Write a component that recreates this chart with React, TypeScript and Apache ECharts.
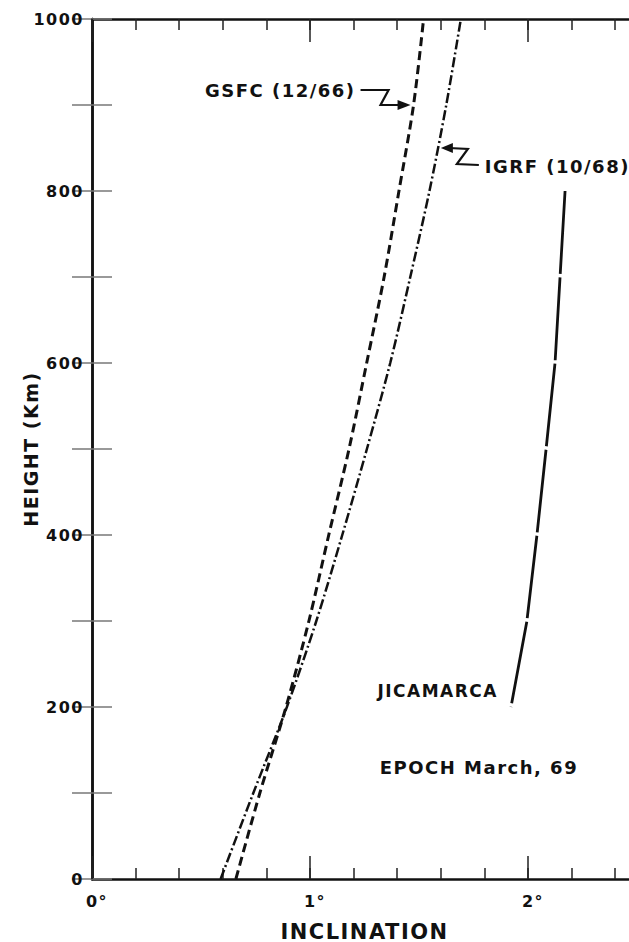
import React, { useEffect, useRef } from "react";
import * as echarts from "echarts";

// ---- data ----
const heightsKm = [0, 100, 200, 300, 400, 500, 600, 700, 800, 900, 1000];
const gsfcInclination = [0.66, 0.77, 0.89, 0.995, 1.086, 1.179, 1.26, 1.34, 1.408, 1.475, 1.521];
const igrfInclination = [0.59, 0.74, 0.894, 1.029, 1.148, 1.261, 1.368, 1.46, 1.548, 1.625, 1.692];
const jicamarcaHeightsKm = [800, 700, 600, 500, 400, 300, 200];
const jicamarcaInclination = [2.17, 2.147, 2.124, 2.083, 2.041, 1.995, 1.922];

const xTickLabels = ["0°", "1°", "2°"];
const X_MAX = 2.5;
const Y_MAX = 1000;

const X_NAME = "INCLINATION";
const Y_NAME = "HEIGHT (Km)";
const GSFC_LABEL = "GSFC (12/66)";
const IGRF_LABEL = "IGRF (10/68)";
const JIC_LABEL = "JICAMARCA";
const EPOCH_LABEL = "EPOCH March, 69";

const GSFC_ARROW_KM = 900;
const IGRF_ARROW_KM = 850;
const EPOCH_POS = [1.32, 130];

const FONT = "DejaVu Sans";
const INK = "#111";

function interp(hs: number[], vs: number[], h: number) {
  for (let i = 0; i < hs.length - 1; i++) {
    const a = hs[i], b = hs[i + 1];
    if ((h >= a && h <= b) || (h <= a && h >= b)) {
      const t = (h - a) / (b - a);
      return vs[i] + t * (vs[i + 1] - vs[i]);
    }
  }
  return vs[vs.length - 1];
}

export default function App() {
  const ref = useRef<HTMLDivElement>(null);

  useEffect(() => {
    const el = ref.current!;
    const chart = echarts.init(el, null, { renderer: "svg" });

    const tickFont = { fontFamily: FONT, fontWeight: "bold", fontSize: 16, color: INK };
    const axisLine = { show: true, lineStyle: { color: INK, width: 2.5 } };
    const xTickStyle = { color: "#222", width: 1.5 };
    const yTickStyle = { color: "#777", width: 1.5 };
    const baseX: any = { type: "value", min: 0, max: X_MAX, splitLine: { show: false } };
    const baseY: any = { type: "value", min: 0, max: Y_MAX, interval: 100, splitLine: { show: false } };

    chart.setOption({
      animation: false,
      backgroundColor: "#fff",
      grid: {
        left: 92,
        top: 19,
        width: 545,
        height: 860,
        containLabel: false,
        outerBoundsMode: "none",
      },
      xAxis: [
        {
          ...baseX,
          position: "bottom",
          interval: 1,
          axisLine,
          axisTick: { show: true, inside: true, length: 23, lineStyle: xTickStyle },
          axisLabel: {
            ...tickFont,
            margin: 14,
            padding: [0, 0, 0, 10],
            showMaxLabel: false,
            formatter: (v: number) => (Number.isInteger(v) && xTickLabels[v] ? xTickLabels[v] : ""),
          },
          name: X_NAME,
          nameLocation: "middle",
          nameGap: 42,
          nameMoveOverlap: false,
          nameTextStyle: { fontFamily: FONT, fontWeight: "bold", fontSize: 21, color: INK },
        },
        {
          ...baseX,
          position: "bottom",
          interval: 0.2,
          axisLine: { show: false },
          axisTick: { show: true, inside: true, length: 11, lineStyle: xTickStyle },
          axisLabel: { show: false },
        },
        {
          ...baseX,
          position: "top",
          interval: 1,
          axisLine,
          axisTick: { show: true, inside: true, length: 23, lineStyle: xTickStyle },
          axisLabel: { show: false },
        },
        {
          ...baseX,
          position: "top",
          interval: 0.2,
          axisLine: { show: false },
          axisTick: { show: true, inside: true, length: 11, lineStyle: xTickStyle },
          axisLabel: { show: false },
        },
      ],
      yAxis: [
        {
          ...baseY,
          position: "left",
          axisLine,
          axisTick: { show: true, inside: true, length: 20, lineStyle: yTickStyle },
          axisLabel: {
            ...tickFont,
            margin: 8,
            formatter: (v: number) => (v % 200 === 0 ? String(v) : ""),
          },
          name: Y_NAME,
          nameLocation: "middle",
          nameGap: 52,
          nameRotate: 90,
          nameMoveOverlap: false,
          nameTextStyle: { fontFamily: FONT, fontWeight: "bold", fontSize: 19, color: INK },
        },
        {
          ...baseY,
          position: "right",
          axisLine,
          axisTick: { show: true, inside: true, length: 20, lineStyle: yTickStyle },
          axisLabel: { show: false },
        },
      ],
      series: [
        {
          name: GSFC_LABEL,
          type: "line",
          xAxisIndex: 0,
          yAxisIndex: 0,
          data: heightsKm.map((h, i) => [gsfcInclination[i], h]),
          symbol: "none",
          showSymbol: false,
          smooth: 0.3,
          lineStyle: { color: INK, width: 3, type: [9, 5] },
        },
        {
          name: IGRF_LABEL,
          type: "line",
          xAxisIndex: 0,
          yAxisIndex: 0,
          data: heightsKm.map((h, i) => [igrfInclination[i], h]),
          symbol: "none",
          showSymbol: false,
          smooth: 0.3,
          lineStyle: { color: INK, width: 2.5, type: [10, 3, 2, 3] },
        },
        {
          name: JIC_LABEL,
          type: "line",
          xAxisIndex: 0,
          yAxisIndex: 0,
          data: jicamarcaHeightsKm.map((h, i) => [jicamarcaInclination[i], h]),
          symbol: "none",
          showSymbol: false,
          lineStyle: { color: INK, width: 2.8, type: [83, 3.5] },
        },
      ],
    });

    const px = (d: number, h: number) =>
      chart.convertToPixel({ xAxisIndex: 0, yAxisIndex: 0 }, [d, h]) as number[];

    const textStyle = (text: string, size: number, align: string) => ({
      text,
      fill: INK,
      fontFamily: FONT,
      fontWeight: "bold",
      fontSize: size,
      align,
      verticalAlign: "middle",
    });

    const g = px(interp(heightsKm, gsfcInclination, GSFC_ARROW_KM), GSFC_ARROW_KM);
    const gx = g[0] - 3, gy = g[1];
    const ig = px(interp(heightsKm, igrfInclination, IGRF_ARROW_KM), IGRF_ARROW_KM);
    const ix = ig[0] + 3, iy = ig[1];
    const jb = px(jicamarcaInclination[jicamarcaInclination.length - 1], jicamarcaHeightsKm[jicamarcaHeightsKm.length - 1]);
    const ep = px(EPOCH_POS[0], EPOCH_POS[1]);

    chart.setOption({
      graphic: [
        {
          type: "polyline",
          shape: { points: [[gx - 50, gy - 15], [gx - 22, gy - 15], [gx - 30, gy], [gx - 8, gy]] },
          style: { stroke: INK, lineWidth: 2.2, fill: "none" },
        },
        {
          type: "polygon",
          shape: { points: [[gx - 13, gy - 5], [gx - 13, gy + 5], [gx, gy]] },
          style: { fill: INK },
        },
        { type: "text", x: gx - 55, y: gy - 15, style: textStyle(GSFC_LABEL, 18, "right") },
        {
          type: "polyline",
          shape: { points: [[ix + 8, iy], [ix + 27, iy + 1], [ix + 16, iy + 16], [ix + 38, iy + 17]] },
          style: { stroke: INK, lineWidth: 2.2, fill: "none" },
        },
        {
          type: "polygon",
          shape: { points: [[ix, iy], [ix + 12, iy - 5], [ix + 12, iy + 5]] },
          style: { fill: INK },
        },
        { type: "text", x: ix + 44, y: iy + 18, style: textStyle(IGRF_LABEL, 18, "left") },
        { type: "text", x: jb[0] - 13, y: jb[1] - 16, style: textStyle(JIC_LABEL, 17, "right") },
        { type: "text", x: ep[0], y: ep[1], style: textStyle(EPOCH_LABEL, 18, "left") },
      ],
    });

    return () => chart.dispose();
  }, []);

  return (
    <>
      <style>{"body{margin:0} #chart svg text{letter-spacing:1.5px}"}</style>
      <div
        id="chart"
        ref={ref}
        style={{
          position: "fixed",
          left: 0,
          top: 0,
          width: 629,
          height: 942,
          overflow: "hidden",
          background: "#fff",
        }}
      />
    </>
  );
}
